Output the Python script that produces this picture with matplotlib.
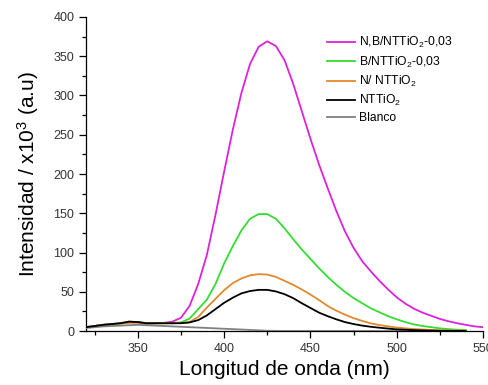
import numpy as np
import matplotlib
matplotlib.use("Agg")
import matplotlib.pyplot as plt
from matplotlib.ticker import MultipleLocator

plt.rcParams["font.family"] = ["Liberation Sans", "DejaVu Sans"]
plt.rcParams["mathtext.fontset"] = "custom"
plt.rcParams["mathtext.rm"] = "Liberation Sans"
plt.rcParams["mathtext.it"] = "Liberation Sans"

nan = np.nan

# Wavelength grid (nm)
wavelength = [320, 325, 330, 335, 340, 345, 350, 355, 360, 365, 370, 375, 380,
              385, 390, 395, 400, 405, 410, 415, 420, 425, 430, 435, 440, 445,
              450, 455, 460, 465, 470, 475, 480, 485, 490, 495, 500, 505, 510,
              515, 520, 525, 530, 535, 540, 545, 550]

# Emission intensity (x10^3 a.u.)
nb_ntt = [5, 6.5, 8, 9, 10, 12, 11.5, 10, 10, 10.5, 12, 17, 32,
          60, 97, 148, 203, 256, 303, 340, 362, 369, 363, 345, 315, 280,
          245, 212, 182, 153, 127, 106, 89, 76, 64, 53, 43, 35, 28.5,
          23.5, 19.5, 15.5, 12.5, 10, 8, 6, 5]

b_ntt = [5, 6.5, 8, 9, 10, 12, 11.5, 10, 10, 10, 10.5, 11, 16,
         28, 40, 60, 86, 108, 128, 143, 149, 149, 143, 131, 117, 104,
         92, 80, 69, 59, 50, 42, 35.5, 29, 24, 19, 15, 11.5, 8.5,
         6.5, 5, 3.5, 2.5, 1.8, 1.3, nan, nan]

n_ntt = [5, 6.5, 8, 9, 9.5, 10.5, 10.5, 9.5, 10, 10, 10, 10.5, 11.5,
         18, 30, 41, 52, 61, 67, 71, 72.5, 72, 69, 64, 59, 53,
         46.5, 39.5, 32, 26, 21, 16.5, 13, 9.8, 7.7, 6, 4.5, 3.5, 2.6,
         2, 1.5, 1.1, 0.8, 0.6, 0.4, nan, nan]

ntt = [5, 6.5, 8, 9, 10, 12, 11.5, 10, 10, 10, 10, 10, 11,
       14, 20, 28, 36, 42.5, 48, 51, 52.5, 52.5, 50.5, 47, 42, 35.5,
       29.5, 23.5, 19, 15, 11.5, 9, 7, 5.5, 4.3, 3.2, 2.2, 1.7, 1.2,
       0.9, 0.6, 0.4, 0.3, 0.2, 0.1, nan, nan]

blanco = [4, 5, 6, 6.5, 7, 7.5, 8, 7.5, 7, 6.5, 6, 5.5, 5,
          4.5, 4, 3.5, 3, 2.5, 2, 1.5, 1, 0.5, 0.3, 0.2, 0.2, 0.2,
          0.2, 0.2, 0.2, 0.2, 0.2, 0.2, 0.2, 0.2, 0.2, 0.2, 0.2, 0.2, 0.2,
          0.2, 0.2, 0.2, 0.2, 0.2, 0.2, nan, nan]

series = [
    (nb_ntt, "N,B/NTTiO$_2$-0,03", "#dd22dd"),
    (b_ntt, "B/NTTiO$_2$-0,03", "#33dd33"),
    (n_ntt, "N/ NTTiO$_2$", "#e08a2a"),
    (ntt, "NTTiO$_2$", "#000000"),
    (blanco, "Blanco", "#808080"),
]

fig = plt.figure(figsize=(4.89, 3.85), dpi=100)
ax = fig.add_axes([0.1759, 0.140, 0.8119, 0.816])

for vals, label, color in series:
    ax.plot(wavelength, vals, color=color, lw=1.3, label=label,
            zorder=4 if color == "#000000" else 3)

ax.set_xlim(320, 550)
ax.set_ylim(0, 400)
ax.xaxis.set_major_locator(MultipleLocator(50))
ax.xaxis.set_minor_locator(MultipleLocator(25))
ax.yaxis.set_major_locator(MultipleLocator(50))
ax.yaxis.set_minor_locator(MultipleLocator(25))

for side in ("top", "right"):
    ax.spines[side].set_visible(False)
for side in ("left", "bottom"):
    ax.spines[side].set_linewidth(0.9)

ax.tick_params(which="major", direction="out", length=5, width=0.9,
               labelsize=9, labelcolor="#333333")
ax.tick_params(which="minor", direction="out", length=3, width=0.9)

ax.set_xlabel("Longitud de onda (nm)", fontsize=15, labelpad=4)
ax.set_ylabel("Intensidad / x10$^3$ (a.u)", fontsize=15, labelpad=9)

leg = ax.legend(loc="upper left", bbox_to_anchor=(0.608, 0.942),
                frameon=False, fontsize=8.7, handlelength=2.3,
                handletextpad=0.3, labelspacing=0.35,
                borderaxespad=0, borderpad=0)

fig.savefig("out.png", dpi=100)
